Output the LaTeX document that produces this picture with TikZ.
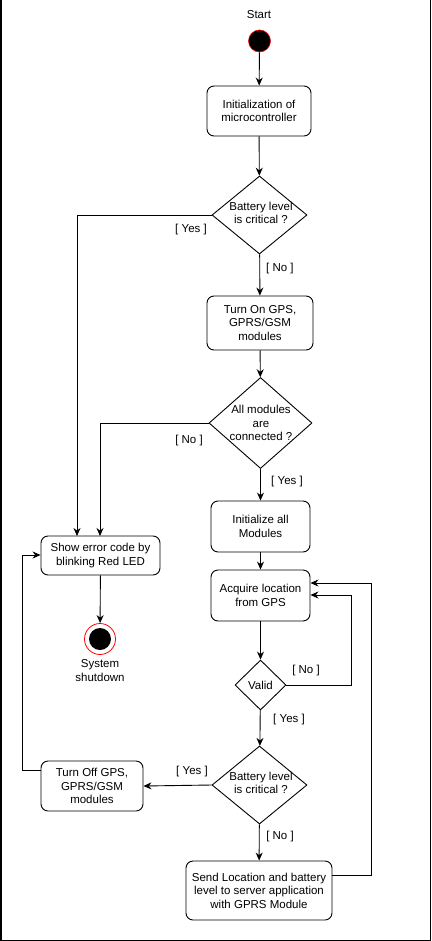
\documentclass[tikz,border=0pt]{standalone}
\usepackage{fontspec}
\setmainfont{Liberation Sans}
\usetikzlibrary{shapes.geometric,arrows.meta}
\begin{document}
\begin{tikzpicture}[x=1pt,y=-1pt,
  every node/.style={font=\fontsize{11.5}{13.5}\selectfont, inner sep=0pt},
  act/.style={draw, rounded corners=7pt, align=center, line width=0.9pt},
  dec/.style={draw, diamond, align=center, line width=0.9pt},
  lbl/.style={font=\fontsize{11.5}{13.5}\selectfont},
  arr/.style={-{Stealth[length=8pt,width=7pt]}, line width=0.9pt},
  ln/.style={line width=0.9pt}]
\useasboundingbox (0,0) rectangle (431,941);
\draw[line width=1.5pt] (0.75,0) -- (0.75,940.25) -- (430.25,940.25) -- (430.25,0);

\node (starttxt) at (259,15) {Start};
\node[circle, fill=black, draw=red, line width=0.6pt, minimum size=22pt] (start) at (259.5,41) {};

\node[act, minimum width=104pt, minimum height=50pt] (init) at (259,111) {Initialization of\\microcontroller};
\node[draw, line width=0.9pt, shape=diamond, aspect=1.22, minimum width=95pt, minimum height=78pt] (d1) at (259.5,215) {};
\node[align=center] at (261,213) {Battery level\\is critical ?};
\node[act, minimum width=106pt, minimum height=54pt] (on) at (260,323) {Turn On GPS,\\GPRS/GSM\\modules};
\node[draw, line width=0.9pt, shape=diamond, aspect=1.13, minimum width=103pt, minimum height=91pt] (d2) at (260.5,423) {};
\node[align=center] at (261,423) {All modules\\are\\connected ?};
\node[act, minimum width=99pt, minimum height=51pt] (initall) at (260.5,526.5) {Initialize all\\Modules};
\node[act, minimum width=99pt, minimum height=51pt] (acq) at (260.5,595.5) {Acquire location\\from GPS};
\node[draw, line width=0.9pt, shape=diamond, aspect=1.02, minimum width=51pt, minimum height=50pt] (valid) at (260.5,685) {};
\node at (260.5,685) {Valid};
\node[draw, line width=0.9pt, shape=diamond, aspect=1.22, minimum width=95pt, minimum height=78pt] (d3) at (259.5,785) {};
\node[align=center] at (261,783) {Battery level\\is critical ?};
\node[act, minimum width=146pt, minimum height=59pt] (send) at (259,890.5) {Send Location and battery\\level to server application\\with GPRS Module};
\node[act, minimum width=102pt, minimum height=50pt] (off) at (92,786) {Turn Off GPS,\\GPRS/GSM\\modules};
\node[act, minimum width=119pt, minimum height=39pt] (err) at (100.5,555.5) {Show error code by\\blinking Red LED};
\node[circle, draw=red, fill=white, line width=0.8pt, minimum size=31pt] (endo) at (100,639) {};
\node[circle, fill=black, minimum size=22pt] (end) at (100,639) {};
\node[align=center] (endtxt) at (100,670.5) {System\\shutdown};

\coordinate (c1) at (77,215);
\coordinate (c2) at (100,423);
\coordinate (c3) at (351,685);
\coordinate (c4) at (351,595);
\coordinate (c5) at (371,875);
\coordinate (c6) at (371,583);
\coordinate (c7) at (22,770);
\coordinate (c8) at (22,555);

\draw[arr] (start) -- (init);
\draw[arr] (init) -- (d1);
\draw[arr] (d1) -- (on) node[lbl, pos=0.35, right=6pt] {[ No ]};
\draw[arr] (d1.west) -- (c1) -- (77,536);
\node[lbl] at (191,230) {[ Yes ]};
\draw[arr] (on) -- (d2);
\draw[arr] (d2.west) -- (c2) -- (100,536);
\node[lbl] at (189,441) {[ No ]};
\draw[arr] (d2) -- (initall);
\node[lbl] at (287,482) {[ Yes ]};
\draw[arr] (initall) -- (acq);
\draw[arr] (acq) -- (valid);
\draw[arr] (valid.east) -- (c3) -- (c4) -- (acq.east |- c4);
\node[lbl] at (306,671) {[ No ]};
\draw[arr] (valid) -- (d3);
\node[lbl] at (289,720) {[ Yes ]};
\draw[arr] (d3.west) -- (off.east);
\node[lbl] at (192,772) {[ Yes ]};
\draw[arr] (d3) -- (send);
\node[lbl] at (280,837) {[ No ]};
\draw[arr] (send.east |- c5) -- (c5) -- (c6) -- (acq.east |- c6);
\draw[arr] (off.west |- c7) -- (c7) -- (c8) -- (err.west |- c8);
\draw[arr] (err) -- (endo);
\end{tikzpicture}
\end{document}
